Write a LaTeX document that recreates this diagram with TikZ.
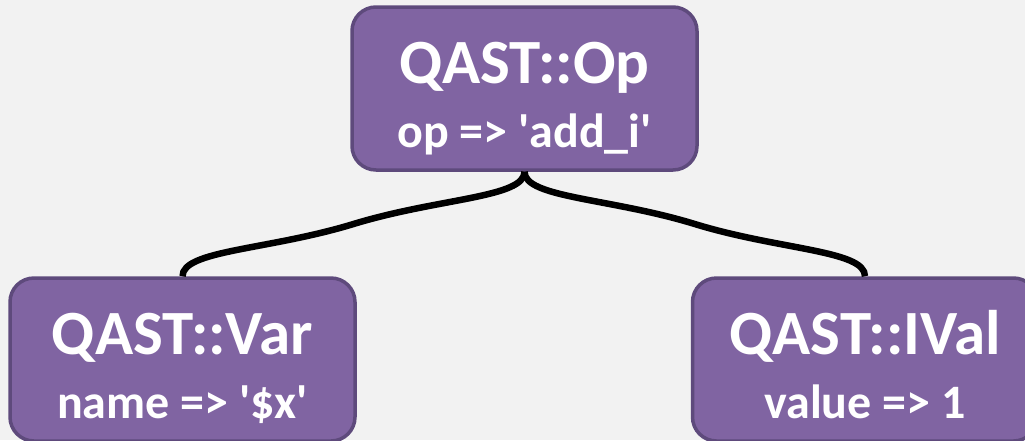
\documentclass[tikz,border=0pt]{standalone}
\usepackage{fontspec}
\setmainfont{Carlito}
\usetikzlibrary{calc}
\definecolor{bg}{HTML}{F2F2F2}
\definecolor{boxfill}{HTML}{8064A2}
\definecolor{boxline}{HTML}{5E4A7C}
\tikzset{
  qbox/.style={draw=boxline, line width=3.5pt, fill=boxfill, rounded corners=24pt,
    minimum width=345pt, minimum height=163pt, inner sep=0pt,
    text height=140pt, text depth=23pt, align=center, text=white,
    font=\bfseries\fontsize{48}{64}\selectfont},
  conn/.style={line width=6.5pt, black}
}
\newcommand{\ttl}[1]{{\fontsize{63}{63}\selectfont #1}}
\newcommand{\q}{\textquotesingle}
\begin{document}
\begin{tikzpicture}[x=1pt,y=-1pt]
\fill[bg] (0,0) rectangle (1025,440);
\useasboundingbox (0,0) rectangle (1025,440);
\node[qbox] (op) at (524.5,88.5) {\ttl{QAST::Op}\\op => \q add\_i\q};
\node[qbox] (var) at (182.5,359.5) {\ttl{QAST::Var}\\name => \q\$x\q};
\node[qbox] (ival) at (865,359.5) {\ttl{QAST::IVal}\\value => 1};
% left connector
\coordinate (ml) at ($(op.south)!0.5!(var.north)$);
\draw[conn] (op.south)
  .. controls ($(op.south)!0.25!(op.south |- var.north)$) and ($(op.south)!0.25!(var.north)$ |- ml) .. (ml)
  .. controls ($(op.south)!0.75!(var.north)$ |- ml) and ($(var.north |- op.south)!0.75!(var.north)$) .. (var.north);
% right connector
\coordinate (mr) at ($(op.south)!0.5!(ival.north)$);
\draw[conn] (op.south)
  .. controls ($(op.south)!0.25!(op.south |- ival.north)$) and ($(op.south)!0.25!(ival.north)$ |- mr) .. (mr)
  .. controls ($(op.south)!0.75!(ival.north)$ |- mr) and ($(ival.north |- op.south)!0.75!(ival.north)$) .. (ival.north);
\end{tikzpicture}
\end{document}
